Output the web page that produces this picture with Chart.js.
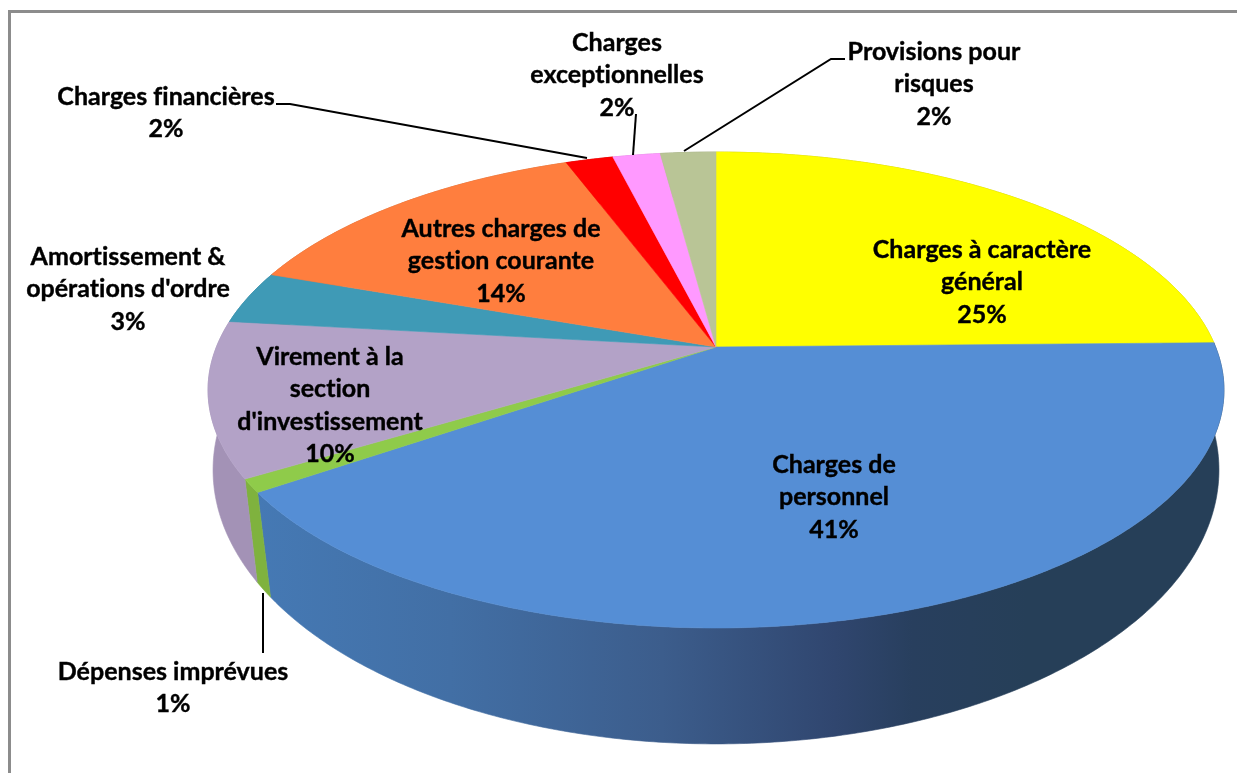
<!DOCTYPE html>
<html>
<head>
<meta charset="utf-8">
<style>
  html, body { margin: 0; padding: 0; background: #fff; overflow: hidden; }
</style>
</head>
<body>
<canvas id="pie" width="1237" height="773" style="display:block"></canvas>
<script src="https://cdn.jsdelivr.net/npm/chart.js@4"></script>
<script>
// data, clockwise from 12 o'clock
const categories = [
    ['Charges à caractère', 'général'],
    ['Charges de', 'personnel'],
    ['Dépenses imprévues'],
    ['Virement à la', 'section', "d'investissement"],
    ['Amortissement &', "opérations d'ordre"],
    ['Autres charges de', 'gestion courante'],
    ['Charges financières'],
    ['Charges', 'exceptionnelles'],
    ['Provisions pour', 'risques']
];
const shares = [24.7, 40.7, 0.9, 10.5, 3.6, 13.9, 1.8, 1.8, 2.1];
const percentLabels = ['25%', '41%', '1%', '10%', '3%', '14%', '2%', '2%', '2%'];

const topColors = ['#ffff00', '#558ed5', '#8fcb4a', '#b3a2c7', '#3f9ab6', '#ff7e3e', '#ff0000', '#ff99ff', '#b9c596'];
const wallColors = ['#b0b000', '#4478b4', '#7fb23e', '#a392b6', '#35809a', '#c8642e', '#c00000', '#cc77cc', '#949e76'];

// label centre x and first line middle y
const labelPos = [[982, 250], [834, 465], [173, 672], [330, 357], [128, 257], [501, 229], [166, 97], [617, 43], [934, 52]];
const lineHeight = 32.3;

// leader lines, by label
const leaders = [
    [[276, 104], [290, 104], [587, 158]],
    [[636, 114], [633, 155]],
    [[845, 59], [831, 59], [684, 151]],
    [[263, 593], [263, 653]]
];

// perspective of the disc: top face and bottom face
const topFace = { cx: 716, cy: 347, a: 499.6, b: 230.2, k: 0.1807 };
const bottomFace = { cx: 716, cy: 431.6, a: 498, b: 268.6, k: 0.14 };

function project(face, angle) {
    const x = Math.cos(angle), y = -Math.sin(angle);
    const w = 1 + face.k * y;
    return [face.cx + face.a * x / w, face.cy - face.b * y / w];
}

function arcPoints(face, from, to) {
    const pts = [];
    const n = Math.max(2, Math.ceil((to - from) / 0.01));
    for (let i = 0; i <= n; i++) pts.push(project(face, from + (to - from) * i / n));
    return pts;
}

function tracePath(ctx, pts) {
    ctx.beginPath();
    pts.forEach((p, i) => i ? ctx.lineTo(p[0], p[1]) : ctx.moveTo(p[0], p[1]));
    ctx.closePath();
}

function blueWallGradient(ctx) {
    const g = ctx.createLinearGradient(258, 0, 1220, 0);
    g.addColorStop(0, '#4579b4');
    g.addColorStop(0.2, '#426fa5');
    g.addColorStop(0.42, '#3c5d8c');
    g.addColorStop(0.6, '#30466f');
    g.addColorStop(0.68, '#283f5e');
    g.addColorStop(0.8, '#263f58');
    g.addColorStop(1, '#263f58');
    return g;
}

const disc3d = {
    id: 'disc3d',
    beforeDraw(chart) {
        const ctx = chart.ctx;
        ctx.save();
        ctx.strokeStyle = '#8c8c8c';
        ctx.lineWidth = 3;
        ctx.beginPath();
        ctx.moveTo(1237, 11.5);
        ctx.lineTo(9.5, 11.5);
        ctx.lineTo(9.5, 773);
        ctx.stroke();
        ctx.restore();
    },
    // the library's arcs give the angles, the flat circle is swapped for the tilted disc
    beforeDatasetsDraw(chart) {
        const ctx = chart.ctx;
        const arcs = chart.getDatasetMeta(0).data;
        ctx.save();
        arcs.forEach((arc, i) => {
            const topEdge = arcPoints(topFace, arc.startAngle, arc.endAngle);
            const bottomEdge = arcPoints(bottomFace, arc.startAngle, arc.endAngle).reverse();
            const fill = i === 1 ? blueWallGradient(ctx) : wallColors[i];
            tracePath(ctx, topEdge.concat(bottomEdge));
            ctx.fillStyle = fill;
            ctx.strokeStyle = fill;
            ctx.lineWidth = 0.6;
            ctx.fill();
            ctx.stroke();
        });
        arcs.forEach((arc, i) => {
            tracePath(ctx, [[topFace.cx, topFace.cy]].concat(arcPoints(topFace, arc.startAngle, arc.endAngle)));
            ctx.fillStyle = topColors[i];
            ctx.strokeStyle = topColors[i];
            ctx.lineWidth = 0.6;
            ctx.fill();
            ctx.stroke();
        });
        ctx.restore();
        return false;
    },
    afterDraw(chart) {
        const ctx = chart.ctx;
        ctx.save();
        ctx.strokeStyle = '#000';
        ctx.lineWidth = 2;
        leaders.forEach(line => {
            ctx.beginPath();
            line.forEach((p, i) => i ? ctx.lineTo(p[0], p[1]) : ctx.moveTo(p[0], p[1]));
            ctx.stroke();
        });
        ctx.fillStyle = '#000';
        ctx.font = 'bold 25px Lato';
        ctx.letterSpacing = '0.01px'; // keeps Lato from joining fi / ti
        ctx.textAlign = 'center';
        ctx.textBaseline = 'middle';
        ctx.lineWidth = 0.4;
        categories.forEach((lines, i) => {
            lines.concat(percentLabels[i]).forEach((text, j) => {
                const y = labelPos[i][1] + j * lineHeight;
                ctx.fillText(text, labelPos[i][0], y);
                ctx.strokeText(text, labelPos[i][0], y);
            });
        });
        ctx.restore();
    }
};

new Chart(document.getElementById('pie').getContext('2d'), {
    type: 'pie',
    data: {
        labels: categories,
        datasets: [{
            data: shares,
            backgroundColor: topColors,
            borderWidth: 0
        }]
    },
    options: {
        responsive: false,
        animation: false,
        plugins: {
            legend: { display: false },
            tooltip: { enabled: false }
        }
    },
    plugins: [disc3d]
});
</script>
</body>
</html>
